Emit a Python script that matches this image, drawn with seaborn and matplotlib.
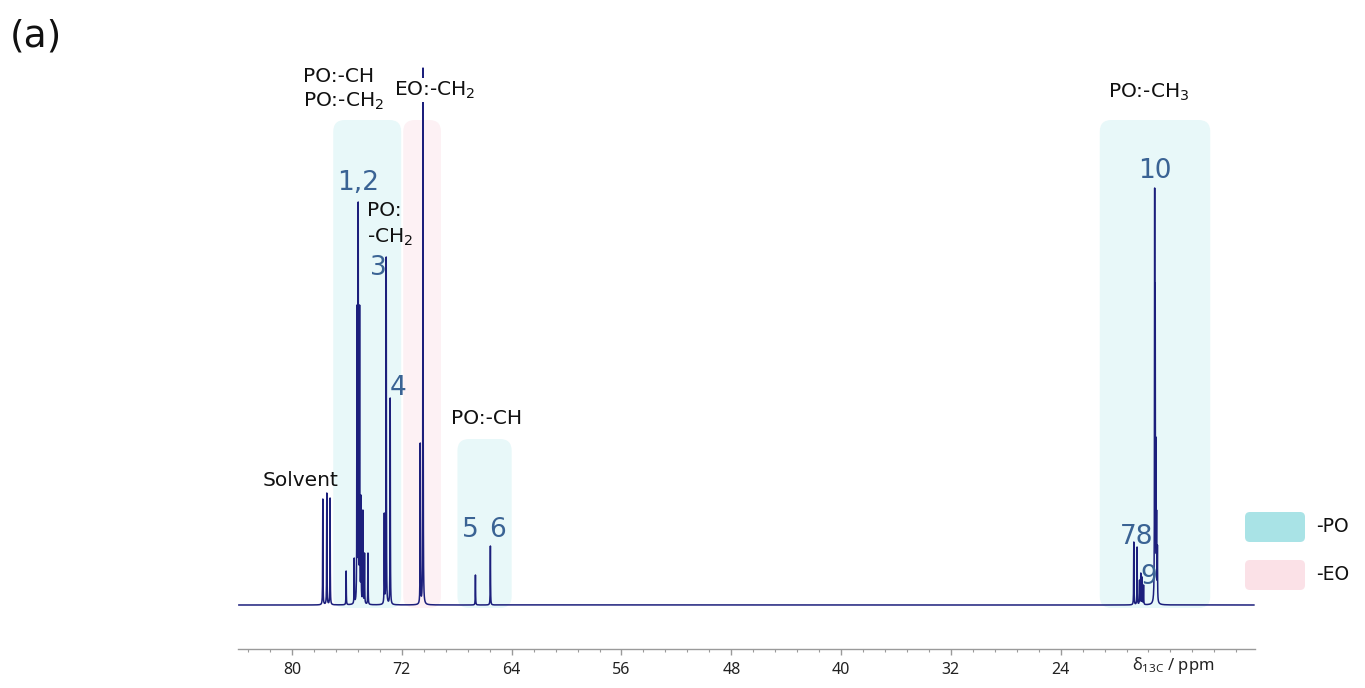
import numpy as np
import pandas as pd
import matplotlib
matplotlib.use("Agg")
import matplotlib.pyplot as plt
from matplotlib.patches import FancyBboxPatch
import seaborn as sns

# Peak list: shift (ppm) and apex height above baseline
peak_ppm = [77.76, 77.47, 77.23, 76.06, 75.47, 75.27, 75.18, 75.08, 74.98, 74.84, 74.72, 74.47,
            73.28, 73.14, 72.85, 70.66, 70.46, 66.64, 65.55,
            18.67, 18.43, 18.25, 18.16, 18.06, 17.96,
            17.15, 17.11, 17.06, 17.01, 16.95]
peak_height = [106, 112, 107, 34, 47, 300, 403, 300, 110, 95, 52, 52,
               92, 348, 207, 162, 537, 30, 59,
               63, 58, 25, 32, 28, 20,
               417, 322, 168, 95, 60]
peak_hwhm = 0.012

# Shaded assignment regions (ppm from, ppm to, top height, kind)
region_lo = [72.05, 69.15, 64.0, 13.1]
region_hi = [77.0, 71.9, 67.95, 21.15]
region_top = [485, 485, 166, 485]
region_kind = ["PO", "EO", "PO", "PO"]

xtick_vals = [80, 72, 64, 56, 48, 40, 32, 24]
xtick_labels = ["80", "72", "64", "56", "48", "40", "32", "24"]

num_labels = ["1,2", "3", "4", "5", "6", "10", "78", "9"]
num_ppm = [76.72, 73.74, 72.28, 67.04, 65.0, 17.14, 18.5, 17.58]
num_h = [422, 337, 217, 75, 75, 434, 68, 28]

fill_colors = {"PO": "#e8f8f9", "EO": "#fdf1f4"}
legend_colors = {"PO": "#a9e3e6", "EO": "#fbe1e7"}
line_color = "#1c1f7c"
num_color = "#3a6394"


def lorentz(d):
    return 1 / (1 + (d / peak_hwhm) ** 2)


# amplitudes so that the summed trace hits the read apex heights
pp = np.array(peak_ppm)
A = lorentz(pp[:, None] - pp[None, :])
amps = np.linalg.solve(A, np.array(peak_height, dtype=float))

ppm = np.arange(9.9, 83.9, 0.002)
inten = np.zeros_like(ppm)
for p, a in zip(peak_ppm, amps):
    inten += a * lorentz(ppm - p)
df = pd.DataFrame({"ppm": ppm, "intensity": inten})

sns.set_theme(style="white")
plt.rcParams["font.family"] = ["DejaVu Sans"]

fig = plt.figure(figsize=(13.65, 6.88), dpi=100)
W, H = 1365, 688
ax = fig.add_axes([238 / W, (H - 649) / H, (1255 - 238) / W, (649 - 60) / H])

px_per_ppm = 13.73
for lo, hi, top, kind in zip(region_lo, region_hi, region_top, region_kind):
    box = FancyBboxPatch((lo, -3), hi - lo, top + 3,
                         boxstyle="round,pad=0,rounding_size=0.85",
                         mutation_aspect=px_per_ppm,
                         facecolor=fill_colors[kind], edgecolor="none", zorder=0)
    ax.add_patch(box)

sns.lineplot(data=df, x="ppm", y="intensity", ax=ax, color=line_color,
             linewidth=1.1, estimator=None, sort=False, zorder=2)

ax.set_xlim(83.94, 9.84)
ax.set_ylim(-44, 545)
ax.set_xlabel("")
ax.set_ylabel("")
ax.set_yticks([])
for s in ["left", "right", "top"]:
    ax.spines[s].set_visible(False)
ax.spines["bottom"].set_color("#9a9a9a")
ax.spines["bottom"].set_linewidth(1.0)
ax.set_xticks(xtick_vals)
ax.set_xticklabels(xtick_labels, fontsize=11.5, color="#222222", family="Noto Sans")
ax.xaxis.set_minor_locator(matplotlib.ticker.MultipleLocator(1.6))
ax.tick_params(axis="x", which="major", direction="out", length=4, width=1,
               color="#9a9a9a", pad=5, bottom=True)
ax.tick_params(axis="x", which="minor", direction="out", length=2.5, width=0.8,
               color="#9a9a9a", bottom=True)
ax.patch.set_alpha(0)

# black annotations
txt = dict(fontsize=14.5, color="#111111", zorder=5)
ax.text(79.2, 529, "PO:-CH", ha="left", va="center", **txt)
ax.text(79.2, 504, "PO:-CH$_2$", ha="left", va="center", **txt)
ax.text(72.57, 515, "EO:-CH$_2$", ha="left", va="center",
        bbox=dict(facecolor="white", edgecolor="none", pad=1), **txt)
ax.text(74.54, 394, "PO:", ha="left", va="center", **txt)
ax.text(74.54, 368, "-CH$_2$", ha="left", va="center", **txt)
ax.text(68.42, 187, "PO:-CH", ha="left", va="center", **txt)
ax.text(82.18, 125, "Solvent", ha="left", va="center", **txt)
ax.text(20.58, 513, "PO:-CH$_3$", ha="left", va="center", **txt)

for lab, p, h in zip(num_labels, num_ppm, num_h):
    ax.text(p, h, lab, ha="left" if lab == "1,2" else "center", va="center",
            fontsize=19, color=num_color, zorder=5)

ax.text(15.8, -61, r"δ$\mathregular{_{13C}}$ / ppm", ha="center", va="center",
        fontsize=12, color="#222222", family="Noto Sans")

# overlay in pixel coordinates for panel tag and legend
ov = fig.add_axes([0, 0, 1, 1])
ov.set_xlim(0, W)
ov.set_ylim(H, 0)
ov.axis("off")
ov.patch.set_alpha(0)
ov.text(10, 36, "(a)", fontsize=27, ha="left", va="center", color="#111111")
for i, kind in enumerate(["PO", "EO"]):
    y0 = 512 + i * 48
    ov.add_patch(FancyBboxPatch((1245, y0), 60, 30,
                                boxstyle="round,pad=0,rounding_size=5",
                                facecolor=legend_colors[kind], edgecolor="none"))
    ov.text(1316, y0 + 15, "-" + kind, ha="left", va="center", fontsize=13.5,
            color="#111111")

fig.savefig("out.png", dpi=100)
